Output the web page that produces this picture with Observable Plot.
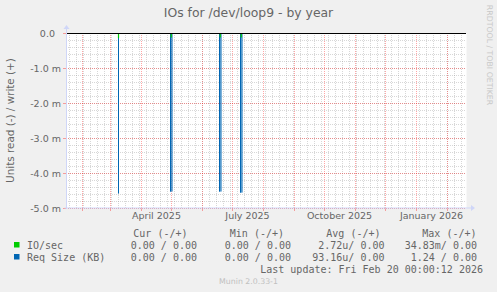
<!DOCTYPE html>
<html><head><meta charset="utf-8">
<script src="https://cdn.jsdelivr.net/npm/d3@7"></script>
<script src="https://cdn.jsdelivr.net/npm/@observablehq/plot@0.6"></script>
<style>
body{margin:0;background:#f0f0f0;}
#chart{position:relative;width:497px;height:292px;overflow:hidden;}
</style>
</head><body><div id="chart"></div>
<script>
// ---- data ----
const title = "IOs for /dev/loop9 - by year";
const yLabel = "Units read (-) / write (+)";
const watermark = "RRDTOOL / TOBI OETIKER";
const timeStart = new Date(2025, 0, 16);
const timeEnd = new Date(2026, 1, 20);
const spikeDates = [new Date(2025, 2, 9), new Date(2025, 3, 30), new Date(2025, 5, 18), new Date(2025, 6, 9)];
const spikeDays = [0, 1.5, 1.5, 1.5];           // duration of each read burst (days)
const reqSizeRead = [-4.58e-3, -4.53e-3, -4.53e-3, -4.56e-3];
const ioRead = [-0.15e-3, -0.13e-3, -0.13e-3, -0.13e-3];
const yTicks = [0, -1e-3, -2e-3, -3e-3, -4e-3, -5e-3];
const xLabelDates = [new Date(2025, 3, 16), new Date(2025, 6, 16), new Date(2025, 9, 16), new Date(2026, 0, 16)];
const legendNames = ["IO/sec", "Req Size (KB)"];
const legendColors = ["#00cc00", "#0066b3"];
const colHeaders = ["Cur (-/+)", "Min (-/+)", "Avg (-/+)", "Max (-/+)"];
const curVals = ["0.00 / 0.00", "0.00 / 0.00"];
const minVals = ["0.00 / 0.00", "0.00 / 0.00"];
const avgVals = ["2.72u/ 0.00", "93.16u/ 0.00"];
const maxVals = ["34.83m/ 0.00", "1.24 / 0.00"];
const lastUpdate = "Last update: Fri Feb 20 00:00:12 2026";
const footer = "Munin 2.0.33-1";

const DAY = 864e5;
const spikes = spikeDates.map((d, i) => ({
  x1: d, x2: new Date(+d + spikeDays[i] * DAY), mid: new Date(+d + spikeDays[i] * DAY / 2),
  req: reqSizeRead[i], io: ioRead[i]
}));
const weeks = d3.timeSunday.range(timeStart, timeEnd);
const months = d3.timeMonth.range(timeStart, timeEnd);
const minorY = d3.range(0, 26).map(i => -i * 0.2e-3);

const FONT = "#666666";
const MGRID = "rgba(255,0,0,0.35)";
const GRID = "rgba(140,140,140,0.35)";
const AXIS = "#CFD6F8";

const plot = Plot.plot({
  width: 497, height: 292,
  marginLeft: 66, marginRight: 31, marginTop: 33, marginBottom: 84,
  style: {background: "transparent", fontFamily: "'DejaVu Sans'", fontSize: "9.5px", color: FONT, overflow: "visible"},
  x: {type: "time", domain: [timeStart, timeEnd]},
  y: {domain: [-5e-3, 0]},
  marks: [
    Plot.frame({fill: "white", stroke: null}),
    Plot.gridY(minorY, {stroke: GRID, strokeOpacity: 1, strokeDasharray: "1,1"}),
    Plot.gridX(weeks, {stroke: GRID, strokeOpacity: 1, strokeDasharray: "1,1"}),
    Plot.gridX(months, {stroke: MGRID, strokeOpacity: 1, strokeDasharray: "1,1"}),
    Plot.gridY(yTicks, {stroke: MGRID, strokeOpacity: 1, strokeDasharray: "1,1"}),
    Plot.axisX(months, {tickSize: 3, tickFormat: () => "", stroke: MGRID}),
    Plot.axisY(yTicks, {tickSize: 3, tickPadding: 2.5, stroke: MGRID, fill: FONT,
      tickFormat: v => v === 0 ? "0.0\u00a0\u00a0" : (v * 1000).toFixed(1) + " m"}),
    Plot.axisX(xLabelDates, {tickSize: 0, tickPadding: 4, fill: FONT, tickFormat: d3.timeFormat("%B %Y")}),
    Plot.rectY(spikes, {x1: "x1", x2: "x2", y1: 0, y2: "req", fill: "#5b9fd6"}),
    Plot.ruleX(spikes, {x: "x1", y1: 0, y2: "req", stroke: "#0066b3", strokeWidth: 1}),
    Plot.ruleX(spikes, {x: "x2", y1: 0, y2: "req", stroke: "#0066b3", strokeWidth: 1}),
    Plot.ruleX(spikes, {x: "mid", y1: 0, y2: "io", stroke: "#00cc00", strokeWidth: 1.2}),
    Plot.ruleY([0], {stroke: "black", strokeWidth: 1.2})
  ]
});

const svg = d3.select(plot);
const xs = plot.scale("x"), ys = plot.scale("y");
const x0 = xs.apply(timeStart) + 0.5, x1 = xs.apply(timeEnd);
const yTop = ys.apply(0), yBot = ys.apply(-5e-3);
// axis lines + arrows
svg.append("line").attr("x1", x0).attr("x2", x0).attr("y1", yBot + 1).attr("y2", yTop - 4).attr("stroke", AXIS);
svg.append("line").attr("x1", x0 - 2).attr("x2", x1 + 5).attr("y1", yBot).attr("y2", yBot).attr("stroke", AXIS);
svg.append("path").attr("d", `M${x0 - 3},${yTop - 4}L${x0 + 3},${yTop - 4}L${x0},${yTop - 8}Z`).attr("fill", AXIS);
svg.append("path").attr("d", `M${x1 + 5},${yBot - 3}L${x1 + 5},${yBot + 3}L${x1 + 9},${yBot}Z`).attr("fill", AXIS);

// title, labels
svg.append("text").attr("x", 248.5).attr("y", 17).attr("text-anchor", "middle")
  .style("font", "12.4px 'DejaVu Sans'").attr("fill", FONT).text(title);
svg.append("text").attr("transform", `translate(14,${(yTop + yBot) / 2}) rotate(-90)`).attr("text-anchor", "middle")
  .style("font", "10.4px 'DejaVu Sans'").attr("fill", FONT).text(yLabel);
svg.append("text").attr("transform", "translate(487,55) rotate(90)").attr("text-anchor", "middle")
  .style("font", "7.8px 'DejaVu Sans'").attr("fill", "#c8c8c8").text(watermark);

// legend
const mono = "10px 'DejaVu Sans Mono'";
const colEnds = [187.5, 284, 380.5, 476.5];
const valEnds = [197, 291, 384.5, 477];
colHeaders.forEach((h, i) => svg.append("text").attr("x", colEnds[i]).attr("y", 236.5).attr("text-anchor", "end")
  .style("font", mono).attr("fill", FONT).text(h));
const cols = [curVals, minVals, avgVals, maxVals];
legendNames.forEach((n, r) => {
  const y = 248.5 + r * 12;
  svg.append("rect").attr("x", 14).attr("y", y - 6.5).attr("width", 5.5).attr("height", 5.5).attr("fill", legendColors[r]);
  svg.append("text").attr("x", 27).attr("y", y).attr("text-anchor", "start").style("font", mono).attr("fill", FONT).text(n);
  cols.forEach((c, i) => svg.append("text").attr("x", valEnds[i]).attr("y", y).attr("text-anchor", "end")
    .style("font", mono).style("white-space", "pre").attr("fill", FONT).text(c[r]));
});
svg.append("text").attr("x", 483).attr("y", 272.5).attr("text-anchor", "end").style("font", mono).attr("fill", FONT).text(lastUpdate);
svg.append("text").attr("x", 248.5).attr("y", 283.5).attr("text-anchor", "middle").style("font", "7.8px 'DejaVu Sans'").attr("fill", "#c0c0c0").text(footer);

document.getElementById("chart").append(plot);
</script>
</body></html>
